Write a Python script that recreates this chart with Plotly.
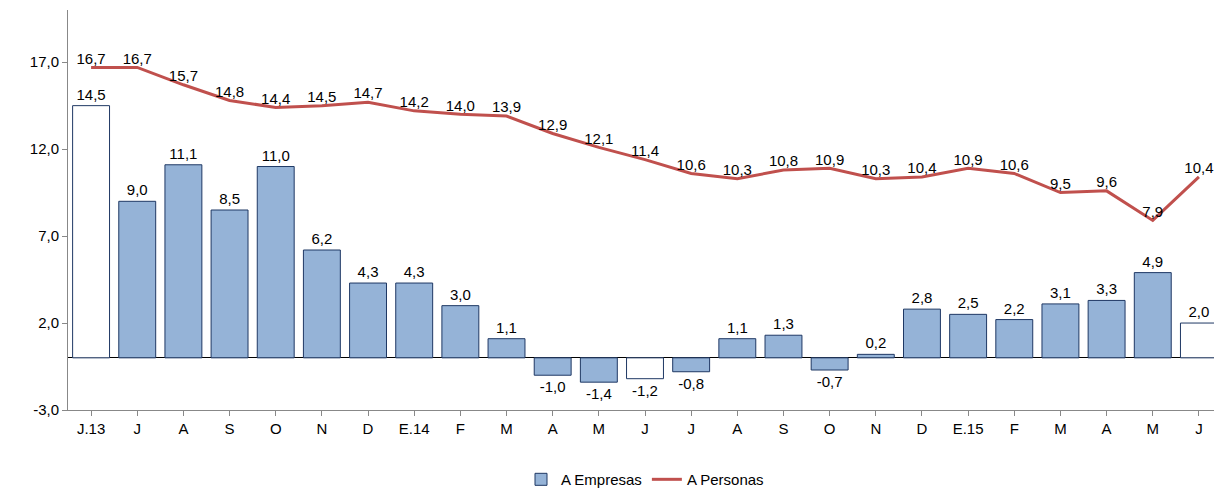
import plotly.graph_objects as go

cats = ["J.13","J","A","S","O","N","D","E.14","F","M","A","M","J","J","A","S","O","N","D","E.15","F","M","A","M","J"]
empresas = [14.5,9.0,11.1,8.5,11.0,6.2,4.3,4.3,3.0,1.1,-1.0,-1.4,-1.2,-0.8,1.1,1.3,-0.7,0.2,2.8,2.5,2.2,3.1,3.3,4.9,2.0]
personas = [16.7,16.7,15.7,14.8,14.4,14.5,14.7,14.2,14.0,13.9,12.9,12.1,11.4,10.6,10.3,10.8,10.9,10.3,10.4,10.9,10.6,9.5,9.6,7.9,10.4]
white_idx = [0, 12, 24]

x = list(range(len(cats)))
fmt = lambda v: f"{v:.1f}".replace(".", ",")
colors = ["white" if i in white_idx else "#95B3D7" for i in x]
edge = "#1F3864"

fig = go.Figure()
fig.add_trace(go.Bar(x=x, y=empresas, name="A Empresas", showlegend=False,
                     marker=dict(color=colors, line=dict(color=edge, width=1)),
                     text=[fmt(v) for v in empresas], textposition="outside", cliponaxis=False,
                     textfont=dict(size=15, color="black"), width=0.8))
fig.add_trace(go.Bar(x=[None], y=[None], name="A Empresas",
                     marker=dict(color="#95B3D7", line=dict(color=edge, width=1))))
fig.add_trace(go.Scatter(x=x, y=personas, name="A Personas", mode="lines+text", line=dict(color="#C0504D", width=3),
                         text=[fmt(v) for v in personas], textposition="top center", cliponaxis=False,
                         textfont=dict(size=15, color="black")))
fig.update_layout(
    width=1222, height=493, plot_bgcolor="white", paper_bgcolor="white",
    margin=dict(l=60, r=8, t=2, b=91),
    font=dict(family="Liberation Sans, Arial", size=15, color="black"),
    showlegend=True,
    legend=dict(orientation="h", x=0.5, xanchor="center", yref="container", y=0.01, yanchor="bottom", font=dict(size=15)),
    bargap=0.2, barmode="overlay",
)
fig.update_xaxes(tickmode="array", tickvals=x, ticktext=cats, range=[-0.5, 24.5], showline=True, linecolor="#888",
                 ticks="outside", tickcolor="#888", ticklen=5, showgrid=False)
fig.update_yaxes(range=[-3, 20], tickvals=[-3, 2, 7, 12, 17], ticktext=[fmt(v) for v in [-3, 2, 7, 12, 17]],
                 showline=True, linecolor="#888", ticks="outside", tickcolor="#888", ticklen=5, showgrid=False,
                 zeroline=True, zerolinecolor="black", zerolinewidth=1)
fig.write_html("out.html")
